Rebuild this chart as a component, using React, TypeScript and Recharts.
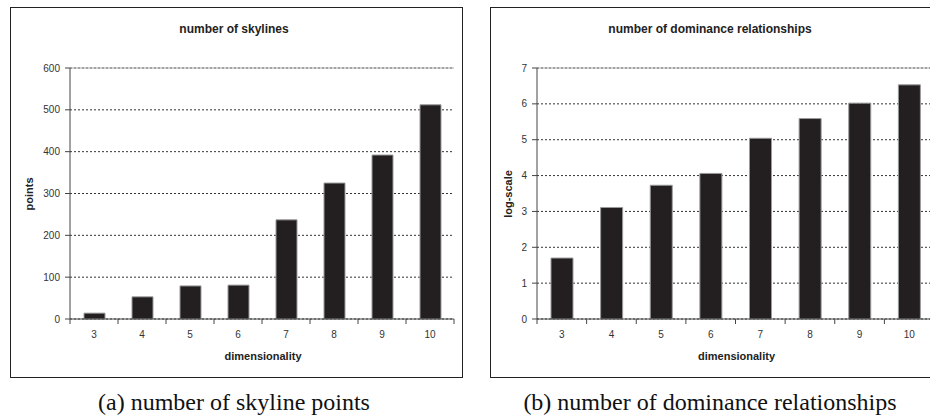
import React from 'react'
import { Bar, BarChart, CartesianGrid, ReferenceLine, XAxis, YAxis } from 'recharts'

const dimensions = ['3', '4', '5', '6', '7', '8', '9', '10']
const skylinePoints = [14, 53, 79, 81, 237, 325, 392, 512]
const dominanceLog = [1.7, 3.11, 3.73, 4.06, 5.04, 5.59, 6.02, 6.53]
const skylineTicks = [0, 100, 200, 300, 400, 500, 600]
const dominanceTicks = [0, 1, 2, 3, 4, 5, 6, 7]

const FONT = '"Liberation Sans", Arial, sans-serif'
const SERIF = '"Liberation Serif", "Times New Roman", serif'
const TICK_SIZE = 5
const TICK_MARGIN = 7

// Excel-style ticks: marks sit between categories, labels in the middle
function BoundaryTick(props: any) {
  const { x, y, payload, index, visibleTicksCount } = props
  const half = payload?.offset ?? 24
  const axisY = y - TICK_SIZE - TICK_MARGIN
  const last = index === visibleTicksCount - 1
  return (
    <g>
      <line x1={x - half} x2={x - half} y1={axisY} y2={axisY + TICK_SIZE} stroke="#444" />
      {last && <line x1={x + half} x2={x + half} y1={axisY} y2={axisY + TICK_SIZE} stroke="#444" />}
      <text x={x} y={y} dy="0.71em" textAnchor="middle" fontSize={10} fill="#333" fontFamily={FONT}>
        {payload.value}
      </text>
    </g>
  )
}

type PanelProps = {
  left: number
  title: string
  titleX: number
  yLabel: string
  values: number[]
  ticks: number[]
  yAxisWidth: number
  barSize: number
  yLabelX: number
}

function Panel({ left, title, titleX, yLabel, values, ticks, yAxisWidth, barSize, yLabelX }: PanelProps) {
  const data = dimensions.map((d, i) => ({ dim: d, value: values[i] }))
  const width = 453
  const height = 371
  const plotLeft = yAxisWidth
  const plotRight = width - 9
  const cx = left + (plotLeft + plotRight) / 2
  const top = ticks[ticks.length - 1]
  return (
    <div
      style={{
        position: 'absolute',
        left,
        top: 7,
        width,
        height,
        boxSizing: 'border-box',
        border: '1.5px solid #222',
        background: '#fff',
      }}
    >
      <div
        style={{
          position: 'absolute',
          left: titleX - left - 200,
          top: 14,
          width: 400,
          textAlign: 'center',
          fontFamily: FONT,
          fontWeight: 'bold',
          fontSize: 12,
          lineHeight: '14px',
          color: '#222',
        }}
      >
        {title}
      </div>
      <div style={{ position: 'absolute', left: -1.5, top: -1.5 }}>
        <BarChart
          width={width}
          height={height}
          data={data}
          margin={{ top: 61, right: 9, bottom: 19, left: 0 }}
          barSize={barSize}
        >
          <CartesianGrid
            horizontal
            vertical={false}
            stroke="#333"
            strokeDasharray="2 2"
            yAxisId="main"
          />
          <XAxis
            dataKey="dim"
            height={40}
            axisLine={{ stroke: '#444' }}
            tickLine={false}
            tickSize={TICK_SIZE}
            tickMargin={TICK_MARGIN}
            interval={0}
            tick={<BoundaryTick />}
          />
          <YAxis
            yAxisId="main"
            width={yAxisWidth}
            domain={[0, top]}
            ticks={ticks}
            interval={0}
            axisLine={{ stroke: '#444' }}
            tickLine={{ stroke: '#444' }}
            tickSize={TICK_SIZE}
            tickMargin={5}
            tick={{ fontSize: 10, fill: '#333', fontFamily: FONT }}
          />
          <YAxis
            yAxisId="border"
            orientation="right"
            width={0}
            domain={[0, top]}
            tick={false}
            tickLine={false}
            axisLine={{ stroke: '#aaa' }}
          />
          <ReferenceLine yAxisId="main" y={top} stroke="#aaa" />
          <Bar
            yAxisId="main"
            dataKey="value"
            fill="#231f20"
            stroke="#9a9a9a"
            strokeWidth={1}
            isAnimationActive={false}
          />
        </BarChart>
      </div>
      <div
        style={{
          position: 'absolute',
          left: yLabelX - left,
          top: 193 - 7,
          transform: 'translate(-50%, -50%) rotate(-90deg)',
          fontFamily: FONT,
          fontWeight: 'bold',
          fontSize: 11,
          color: '#222',
          whiteSpace: 'nowrap',
        }}
      >
        {yLabel}
      </div>
      <div
        style={{
          position: 'absolute',
          left: cx - left - 100,
          width: 200,
          top: 350 - 7 - 1.5,
          textAlign: 'center',
          fontFamily: FONT,
          fontWeight: 'bold',
          fontSize: 11,
          lineHeight: '13px',
          color: '#222',
        }}
      >
        dimensionality
      </div>
    </div>
  )
}

export default function App() {
  return (
    <div
      style={{
        position: 'fixed',
        left: 0,
        top: 0,
        width: 930,
        height: 419,
        overflow: 'hidden',
        background: '#fff',
      }}
    >
      <Panel
        left={10}
        title="number of skylines"
        titleX={233}
        yLabel="points"
        values={skylinePoints}
        ticks={skylineTicks}
        yAxisWidth={60}
        barSize={21}
        yLabelX={28}
      />
      <Panel
        left={490}
        title="number of dominance relationships"
        titleX={709}
        yLabel="log-scale"
        values={dominanceLog}
        ticks={dominanceTicks}
        yAxisWidth={47}
        barSize={22}
        yLabelX={507}
      />
      <div
        style={{
          position: 'absolute',
          left: 234 - 250,
          width: 500,
          top: 390,
          textAlign: 'center',
          fontFamily: SERIF,
          fontSize: 24,
          lineHeight: '24px',
          color: '#111',
          whiteSpace: 'nowrap',
        }}
      >
        (a) number of skyline points
      </div>
      <div
        style={{
          position: 'absolute',
          left: 710 - 250,
          width: 500,
          top: 390,
          textAlign: 'center',
          fontFamily: SERIF,
          fontSize: 24,
          lineHeight: '24px',
          color: '#111',
          whiteSpace: 'nowrap',
        }}
      >
        (b) number of dominance relationships
      </div>
    </div>
  )
}
